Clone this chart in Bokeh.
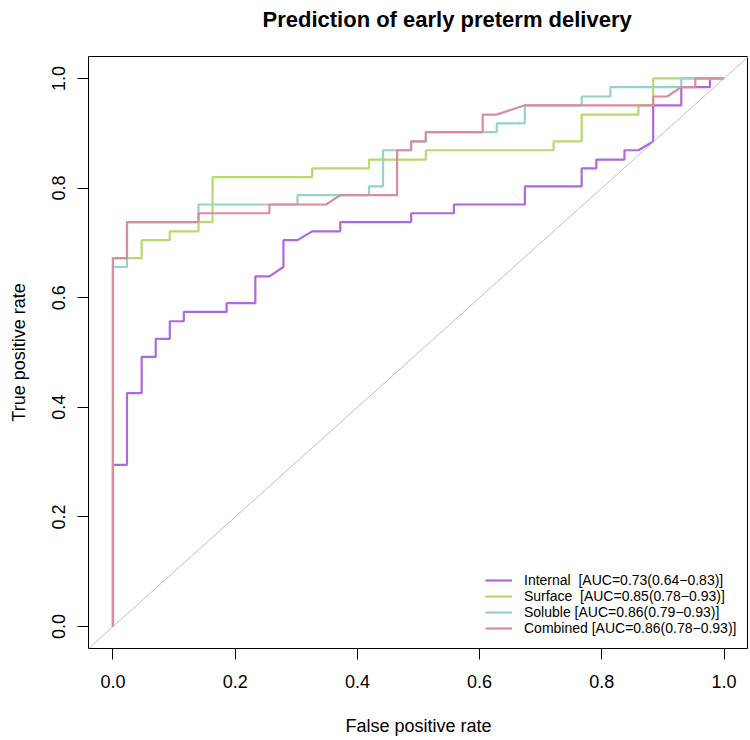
from bokeh.plotting import figure
from bokeh.models import Range1d, FixedTicker, Legend, LegendItem, Slope
from bokeh.embed import file_html
from bokeh.resources import INLINE

# ---- data ----
internal_fpr = [0, 0, 0.023, 0.023, 0.047, 0.047, 0.070, 0.070, 0.093, 0.093, 0.116, 0.116,
                0.186, 0.186, 0.233, 0.233, 0.256, 0.279, 0.279, 0.302, 0.326, 0.372, 0.372,
                0.488, 0.488, 0.558, 0.558, 0.674, 0.674, 0.767, 0.767, 0.791, 0.791, 0.837,
                0.837, 0.860, 0.884, 0.884, 0.930, 0.930, 0.977, 0.977, 1.0]
internal_tpr = [0, 0.295, 0.295, 0.426, 0.426, 0.492, 0.492, 0.525, 0.525, 0.557, 0.557, 0.574,
                0.574, 0.590, 0.590, 0.639, 0.639, 0.656, 0.705, 0.705, 0.721, 0.721, 0.738,
                0.738, 0.754, 0.754, 0.770, 0.770, 0.803, 0.803, 0.836, 0.836, 0.852, 0.852,
                0.869, 0.869, 0.885, 0.951, 0.951, 0.984, 0.984, 1.0, 1.0]

surface_fpr = [0, 0, 0.047, 0.047, 0.093, 0.093, 0.140, 0.140, 0.163, 0.163, 0.326, 0.326,
               0.419, 0.419, 0.512, 0.512, 0.721, 0.721, 0.767, 0.767, 0.860, 0.860, 0.884,
               0.884, 1.0]
surface_tpr = [0, 0.672, 0.672, 0.705, 0.705, 0.721, 0.721, 0.738, 0.738, 0.820, 0.820, 0.836,
               0.836, 0.852, 0.852, 0.869, 0.869, 0.885, 0.885, 0.934, 0.934, 0.951, 0.951,
               1.0, 1.0]

soluble_fpr = [0, 0, 0.023, 0.023, 0.140, 0.140, 0.302, 0.302, 0.419, 0.419, 0.442, 0.442,
               0.488, 0.488, 0.512, 0.512, 0.628, 0.628, 0.674, 0.674, 0.767, 0.767, 0.814,
               0.814, 0.930, 0.930, 1.0]
soluble_tpr = [0, 0.656, 0.656, 0.738, 0.738, 0.770, 0.770, 0.787, 0.787, 0.803, 0.803, 0.869,
               0.869, 0.885, 0.885, 0.902, 0.902, 0.918, 0.918, 0.951, 0.951, 0.967, 0.967,
               0.984, 0.984, 1.0, 1.0]

combined_fpr = [0, 0, 0.023, 0.023, 0.140, 0.140, 0.256, 0.256, 0.349, 0.372, 0.465, 0.465,
                0.488, 0.488, 0.512, 0.512, 0.605, 0.605, 0.628, 0.674, 0.884, 0.884, 0.907,
                0.930, 0.953, 0.953, 1.0]
combined_tpr = [0, 0.672, 0.672, 0.738, 0.738, 0.754, 0.754, 0.770, 0.770, 0.787, 0.787, 0.869,
                0.869, 0.885, 0.885, 0.902, 0.902, 0.934, 0.934, 0.951, 0.951, 0.967, 0.967,
                0.984, 0.984, 1.0, 1.0]

title_text = "Prediction of early preterm delivery"
series_labels = ["Internal  [AUC=0.73(0.64\u22120.83)]",
                 "Surface  [AUC=0.85(0.78\u22120.93)]",
                 "Soluble [AUC=0.86(0.79\u22120.93)]",
                 "Combined [AUC=0.86(0.78\u22120.93)]"]
series_colors = ["#B066DC", "#B4DB6C", "#96D1CC", "#D98C9A"]
tick_values = [0.0, 0.2, 0.4, 0.6, 0.8, 1.0]
tick_labels = {v: "%.1f" % v for v in tick_values}

FONT = "Liberation Sans"

p = figure(frame_width=660, frame_height=592,
           min_border_left=88, min_border_right=0, min_border_top=56, min_border_bottom=84,
           x_range=Range1d(-0.04, 1.04), y_range=Range1d(-0.04, 1.04),
           output_backend="svg", toolbar_location=None,
           title=title_text + "\n ")

p.background_fill_color = "white"
p.border_fill_color = "white"
p.outline_line_color = "black"
p.outline_line_width = 1
p.grid.visible = False

p.title.align = "left"
p.title.offset = 174
p.title.text_font = FONT
p.title.text_font_size = "22px"
p.title.text_font_style = "bold"
p.title.text_color = "black"
p.title.standoff = 0

for ax in (p.xaxis[0], p.yaxis[0]):
    ax.ticker = FixedTicker(ticks=tick_values)
    ax.major_label_overrides = tick_labels
    ax.axis_line_color = None
    ax.major_tick_in = 0
    ax.major_tick_out = 11
    ax.major_tick_line_color = "black"
    ax.minor_tick_line_color = None
    ax.major_label_text_font = FONT
    ax.major_label_text_font_size = "18px"
    ax.major_label_text_color = "black"
    ax.axis_label_text_font = FONT
    ax.axis_label_text_font_size = "18px"
    ax.axis_label_text_font_style = "normal"
    ax.axis_label_text_color = "black"

p.xaxis.axis_label = "False positive rate"
p.yaxis.axis_label = "True positive rate"
p.yaxis.major_label_orientation = "vertical"
p.xaxis.major_label_standoff = 15
p.yaxis.major_label_standoff = 12
p.xaxis.axis_label_standoff = 25
p.yaxis.axis_label_standoff = 21

p.add_layout(Slope(gradient=1, y_intercept=0, line_color="#BEBEBE", line_width=1))

series = [(internal_fpr, internal_tpr), (surface_fpr, surface_tpr),
          (soluble_fpr, soluble_tpr), (combined_fpr, combined_tpr)]
items = []
for (xs, ys), lab, col in zip(series, series_labels, series_colors):
    r = p.line(xs, ys, line_color=col, line_width=2.2)
    items.append(LegendItem(label=lab, renderers=[r]))

legend = Legend(items=items, location=(397, 12), margin=0, padding=10, spacing=0,
                glyph_width=27, glyph_height=16, label_height=16, label_standoff=12,
                label_text_font=FONT, label_text_font_size="14px",
                label_text_color="black",
                background_fill_alpha=0, border_line_color=None)
p.add_layout(legend)

open("out.html", "w").write(file_html(p, INLINE))
